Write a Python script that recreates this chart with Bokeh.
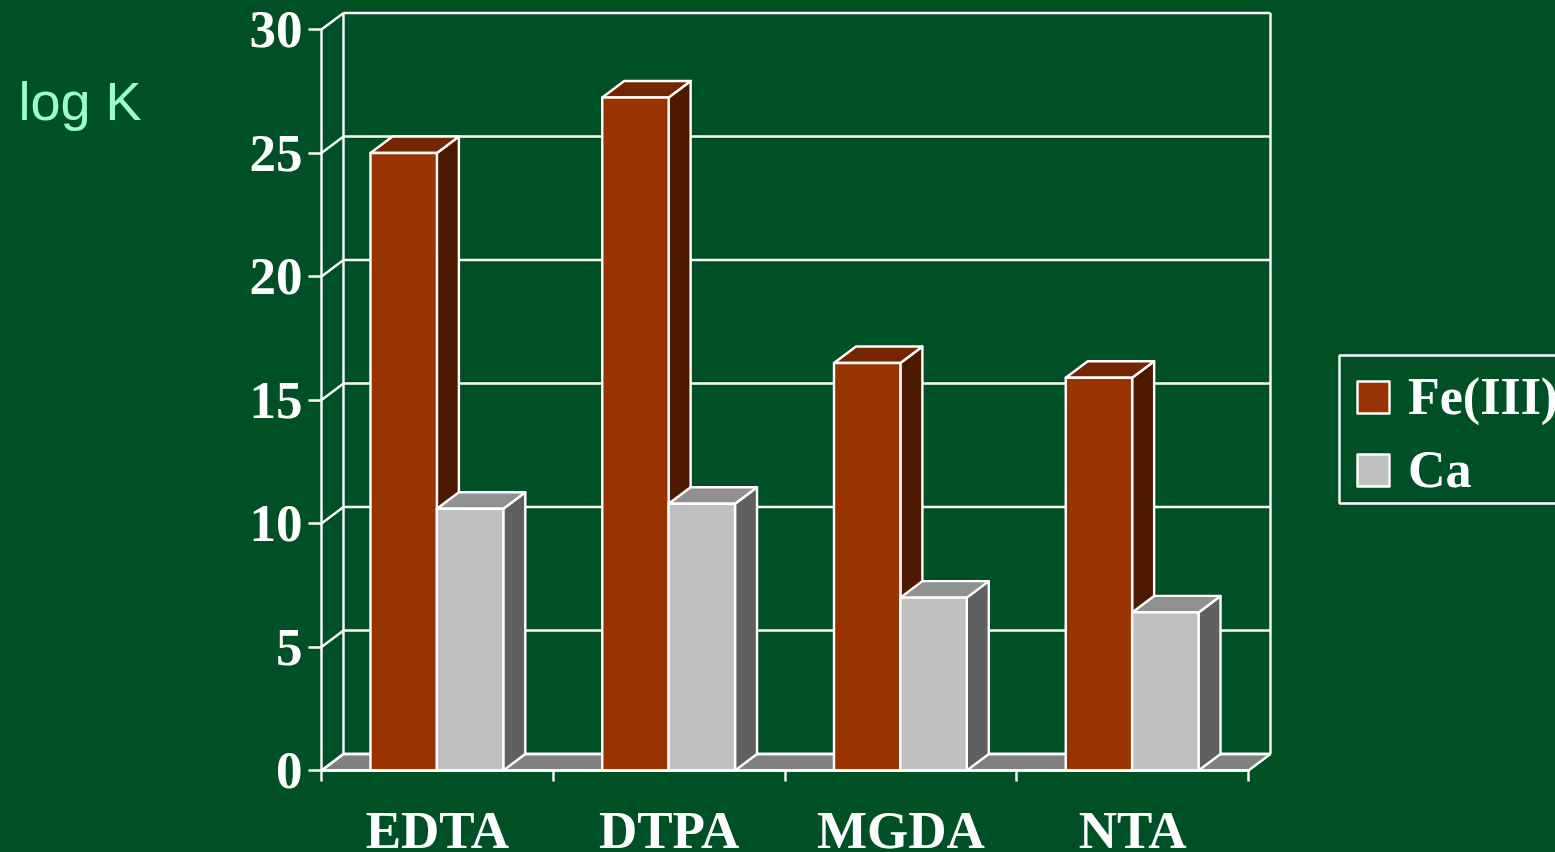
from bokeh.core.properties import value
from bokeh.embed import file_html
from bokeh.io import curdoc
from bokeh.models import BoxAnnotation, CustomJS, FixedTicker, Label, Legend, LegendItem, Range1d
from bokeh.plotting import figure
from bokeh.resources import INLINE

categories = ["EDTA", "DTPA", "MGDA", "NTA"]
fe_values = [25.0, 27.25, 16.5, 15.9]
ca_values = [10.6, 10.8, 7.0, 6.4]
y_ticks = [0, 5, 10, 15, 20, 25, 30]

BG = "#005026"
WHITE = "#ffffff"
FONT = "Liberation Serif"
W, H = 1555, 852
PX_X, PX_Y = 231.75, 24.7
DX, DY = 22 / PX_X, 16.5 / PX_Y
BAR_W, BAR_START = 0.2865, 0.2114
LEFT, BOTTOM = 321, 770
LW = 2.4

p = figure(width=W, height=H, output_backend="svg", toolbar_location=None,
           x_range=Range1d(-LEFT / PX_X, (W - LEFT) / PX_X),
           y_range=Range1d(-(H - BOTTOM) / PX_Y, BOTTOM / PX_Y),
           min_border=0,
           background_fill_color=BG, border_fill_color=BG, outline_line_color=None)
p.grid.visible = False

xa, ya = p.xaxis[0], p.yaxis[0]
xa.fixed_location = 0
ya.fixed_location = 0
xa.ticker = FixedTicker(ticks=[i + 0.5 for i in range(len(categories))],
                        minor_ticks=list(range(len(categories) + 1)))
xa.major_label_overrides = {i + 0.5: c for i, c in enumerate(categories)}
xa.bounds = (0, len(categories))
xa.major_tick_out = 0
xa.major_tick_in = 0
xa.minor_tick_out = 11
xa.minor_tick_in = 0
xa.minor_tick_line_color = WHITE
xa.minor_tick_line_width = LW
xa.major_label_standoff = 19
ya.ticker = FixedTicker(ticks=y_ticks)
ya.bounds = (0, 30)
ya.major_tick_out = 13
ya.major_tick_in = 0
ya.minor_tick_out = 0
ya.major_tick_line_color = WHITE
ya.major_tick_line_width = LW
ya.major_label_standoff = 6
for a in (xa, ya):
    a.axis_line_color = WHITE
    a.axis_line_width = LW
    a.major_label_text_color = WHITE
    a.major_label_text_font = FONT
    a.major_label_text_font_style = "bold"
    a.major_label_text_font_size = "53px"
ya.major_label_orientation = "horizontal"

n = len(categories)
# floor
p.patch([0, DX, n + DX, n], [0, DY, DY, 0], fill_color="#808080", line_color=WHITE, line_width=LW)
# back wall and left wall
p.segment([DX] * len(y_ticks), [t + DY for t in y_ticks],
          [n + DX] * len(y_ticks), [t + DY for t in y_ticks], line_color=WHITE, line_width=LW)
p.segment([0] * len(y_ticks), y_ticks, [DX] * len(y_ticks), [t + DY for t in y_ticks],
          line_color=WHITE, line_width=LW)
p.segment([DX, n + DX], [DY, DY], [DX, n + DX], [30 + DY, 30 + DY], line_color=WHITE, line_width=LW)


def box(x0, x1, v):
    front = ([x0, x1, x1, x0], [0, 0, v, v])
    top = ([x0, x1, x1 + DX, x0 + DX], [v, v, v + DY, v + DY])
    side = ([x1, x1 + DX, x1 + DX, x1], [0, DY, v + DY, v])
    return front, top, side


def draw(i, off, v, front_col, top_col, side_col):
    x0 = i + BAR_START + off
    front, top, side = box(x0, x0 + BAR_W, v)
    p.patch(*side, fill_color=side_col, line_color=WHITE, line_width=LW, line_join="round")
    p.patch(*top, fill_color=top_col, line_color=WHITE, line_width=LW, line_join="round")
    return p.patch(*front, fill_color=front_col, line_color=WHITE, line_width=LW, line_join="round")


r_fe = r_ca = None
for i in range(n):
    r_fe = draw(i, 0, fe_values[i], "#993300", "#732600", "#4d1a00")
    r_ca = draw(i, BAR_W, ca_values[i], "#c0c0c0", "#909090", "#606060")

# screen-unit y of a box annotation counts up from the bottom of the canvas
p.add_layout(BoxAnnotation(left=1339, right=W + 20, top=H - 355, bottom=H - 503,
                           left_units="screen", right_units="screen",
                           top_units="screen", bottom_units="screen",
                           fill_alpha=0, line_color=WHITE, line_width=LW, line_alpha=1))

legend = Legend(items=[LegendItem(label=value("Fe(III)"), renderers=[r_fe]),
                       LegendItem(label=value("Ca"), renderers=[r_ca])],
                location=(1338, H - 514),
                glyph_width=40, glyph_height=40, label_height=34, label_width=180,
                padding=15, spacing=14, margin=0, label_standoff=15,
                label_text_font=FONT, label_text_font_style="bold",
                label_text_font_size="52px", label_text_color=WHITE,
                background_fill_alpha=0, border_line_alpha=0)
p.add_layout(legend, "center")

p.add_layout(Label(x=18, y=H - 121, x_units="screen", y_units="screen", text="log K",
                   text_font="Liberation Sans", text_font_size="54px", text_color="#99ffcc",
                   y_offset=-9))

curdoc().add_root(p)
curdoc().js_on_event("document_ready", CustomJS(code=
    "document.documentElement.style.background='%s';document.body.style.background='%s';"
    "document.body.style.margin='0';document.body.style.overflow='hidden';" % (BG, BG)))

open("out.html", "w").write(file_html(p, INLINE))
